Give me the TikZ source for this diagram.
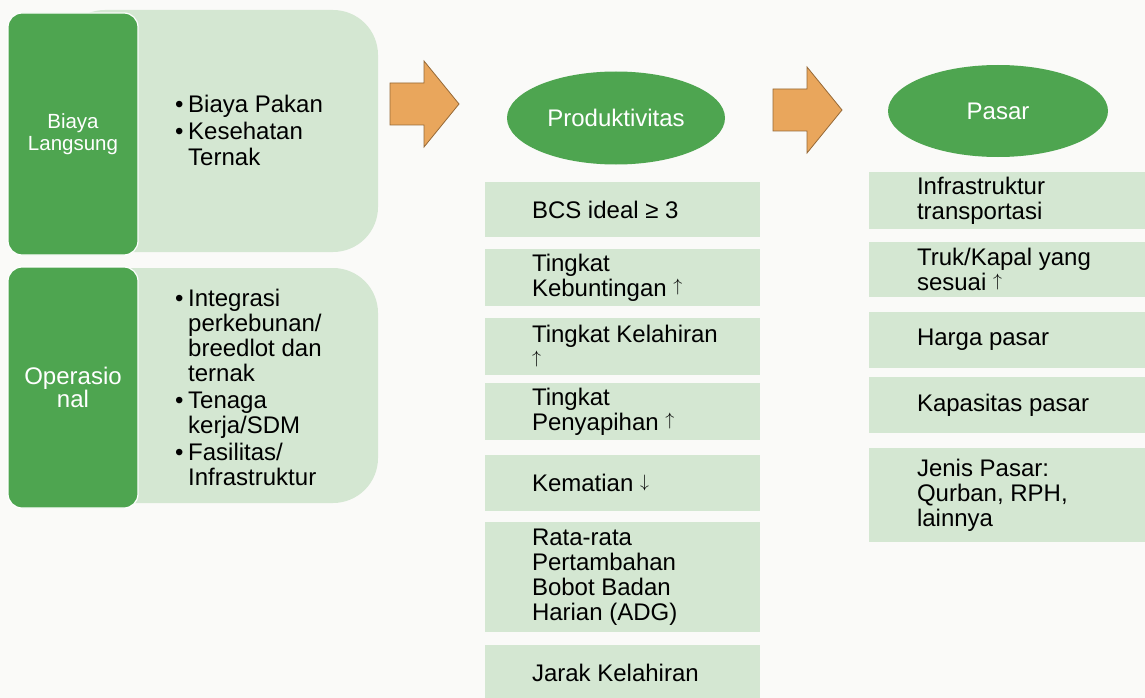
\documentclass[tikz,border=0pt]{standalone}
\usepackage{graphicx}
\usepackage{fontspec}
\setmainfont{Liberation Sans}
\usetikzlibrary{shapes.geometric}

\definecolor{darkgreen}{RGB}{78,165,80}
\definecolor{palegreen}{RGB}{212,231,210}
\definecolor{orangefill}{RGB}{233,166,92}
\definecolor{orangeline}{RGB}{150,105,55}
\definecolor{bgwhite}{RGB}{250,250,248}

\newcommand{\itembullet}{\makebox[13pt][l]{•}}
\newcommand{\upmark}{\raisebox{4.3pt}{\scalebox{0.72}{$\uparrow$}}}
\newcommand{\downmark}{\raisebox{4.3pt}{\scalebox{0.72}{$\downarrow$}}}

\tikzset{
	darkbox/.style={fill=darkgreen, draw=white, line width=1.2pt, rounded corners=14pt, text=white, align=center, inner sep=0pt},
	lightbox/.style={fill=palegreen, rounded corners=45pt, inner sep=0pt},
	oval/.style={ellipse, fill=darkgreen, text=white, inner sep=0pt, font=\fontsize{24}{25}\selectfont},
	itembox/.style={fill=palegreen, inner sep=0pt},
	itemtext/.style={anchor=west, align=left, inner sep=0pt, font=\fontsize{24}{25}\selectfont},
	blockarrow/.style={fill=orangefill, draw=orangeline, line width=0.8pt, line join=miter}
}

\begin{document}
\begin{tikzpicture}[x=1pt, y=-1pt]
			\useasboundingbox (0,0) rectangle (1145,698);
			\fill[bgwhite] (0,0) rectangle (1145,698);
			% left panels
			\node[lightbox, minimum width=318, minimum height=242] (costbg) at (219,131) {};
			\node[lightbox, minimum width=318, minimum height=235] (opsbg) at (219,385.5) {};
			\node[darkbox, minimum width=130, minimum height=242, font=\fontsize{20.5}{22}\selectfont] (cost) at (73,134) {Biaya\\Langsung};
			\node[darkbox, minimum width=130, minimum height=241, font=\fontsize{24}{23}\selectfont] (ops) at (73,387.5) {Operasio\\nal};
			\node[itemtext, font=\fontsize{24}{26}\selectfont] (costlist) at (175,130)
				{\itembullet Biaya Pakan\\[1pt]\itembullet Kesehatan\\\hspace*{13pt}Ternak};
			\node[itemtext] (opslist) at (175,387)
				{\itembullet Integrasi\\\hspace*{13pt}perkebunan/\\\hspace*{13pt}breedlot dan\\\hspace*{13pt}ternak\\[2pt]
				 \itembullet Tenaga\\\hspace*{13pt}kerja/SDM\\[2pt]\itembullet Fasilitas/\\\hspace*{13pt}Infrastruktur};
			% block arrows
			\foreach \x/\y in {390/104, 773/110}
				\draw[blockarrow] (\x,\y-21) -- (\x+34,\y-21) -- (\x+34,\y-43) -- (\x+69,\y)
					-- (\x+34,\y+43) -- (\x+34,\y+21) -- (\x,\y+21) -- cycle;
			% headings
			\node[oval, minimum width=218, minimum height=93] (prod) at (616,118) {Produktivitas};
			\node[oval, minimum width=220, minimum height=92] (market) at (998,111) {Pasar};
			% productivity items
			\foreach \n/\c/\h/\t in {bcs/209.5/55/{BCS ideal ≥ 3}, pregnancy/277.5/57/{Tingkat\\Kebuntingan \upmark},
					birth/346.5/57/{Tingkat Kelahiran\\\upmark}, weaning/411.5/57/{Tingkat\\Penyapihan \upmark},
					death/483/56/{Kematian \downmark}, adg/577/110/{Rata-rata\\Pertambahan\\Bobot Badan\\Harian (ADG)},
					interval/672.5/55/{Jarak Kelahiran}}
			{
				\node[itembox, minimum width=275, minimum height=\h] (\n) at (622.5,\c) {};
				\node[itemtext] (\n text) at ([xshift=47pt]\n.west) {\t};
			}
			% market items
			\foreach \n/\c/\h/\t in {transport/200.5/57/{Infrastruktur\\transportasi}, truck/269.5/55/{Truk/Kapal yang\\sesuai \upmark},
					price/340/56/{Harga pasar}, capacity/405/56/{Kapasitas pasar},
					kind/495/94/{Jenis Pasar:\\Qurban, RPH,\\lainnya}}
			{
				\node[itembox, minimum width=276, minimum height=\h] (\n) at (1007,\c) {};
				\node[itemtext] (\n text) at ([xshift=48pt]\n.west) {\t};
			}
		\end{tikzpicture}
\end{document}
